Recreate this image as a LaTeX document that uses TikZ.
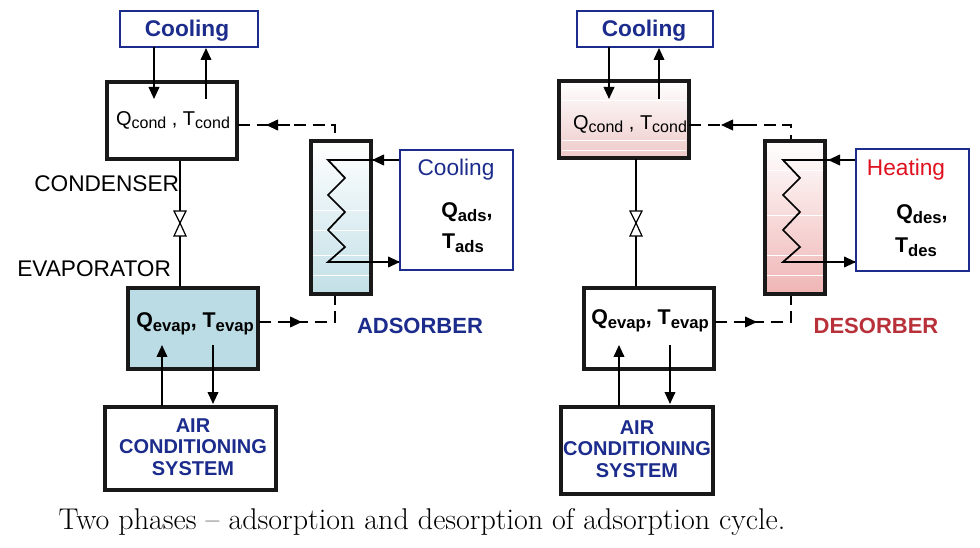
\documentclass[tikz,border=0pt]{standalone}
\usepackage{fontspec}
\setmainfont{Liberation Sans}
\newfontfamily\capfont{Latin Modern Roman}
\usetikzlibrary{arrows.meta}
\definecolor{dblue}{HTML}{1C2C8C}
\definecolor{evapblue}{HTML}{BBDCE4}
\definecolor{pinkc}{HTML}{EEC9C9}
\definecolor{dred}{HTML}{B8313A}
\definecolor{hred}{HTML}{E0101F}
\newcommand{\sbx}[1]{\raisebox{-0.35ex}{\fontsize{12}{13}\selectfont #1}}
\newcommand{\sbb}[1]{\raisebox{-0.35ex}{\fontsize{12.5}{13}\selectfont #1}}
\begin{document}
\begin{tikzpicture}[x=0.75pt,y=-0.75pt,
  txt/.style={font=\fontsize{15}{17}\selectfont, inner sep=0},
  btxt/.style={font=\fontsize{16}{18}\selectfont\bfseries, inner sep=0},
  lbl/.style={font=\fontsize{17}{19}\selectfont, inner sep=0},
  thickbox/.style={draw=black!90, line width=3pt},
  bluebox/.style={draw=dblue, line width=1pt, fill=white},
  arr/.style={line width=1.3pt, -{Triangle[length=9pt,width=8pt]}},
  dashl/.style={line width=1.3pt, dash pattern=on 9pt off 5pt},
  tri/.style={line width=0.9pt, fill=white},
  zz/.style={line width=1.3pt},
  tip/.style={-{Triangle[length=9pt,width=8pt]}, line width=1.3pt},
  airt/.style={text=dblue, align=center, font=\fontsize{15}{16}\selectfont\bfseries, inner sep=0},
  biglbl/.style={font=\fontsize{16.5}{18}\selectfont\bfseries, inner sep=0}
]
\useasboundingbox (0,0) rectangle (980,548);

% ---------------- LEFT ----------------
\draw[bluebox] (120,11) rectangle (258,47);
\node[btxt, text=dblue, font=\fontsize{17}{19}\selectfont\bfseries] (lcoolt) at (187,31) {Cooling};
\draw[thickbox, fill=white] (107,82) rectangle (237,159);
\node[txt] (lcond) at (173,120) {Q\sbx{cond} , T\sbx{cond}};
\draw[arr] (154,47) -- (154,99);
\draw[arr] (206,99) -- (206,48);
\node[lbl, anchor=west] (lcondl) at (34,184) {CONDENSER};
\node[lbl, anchor=west] (levapl) at (17,269) {EVAPORATOR};
\draw[zz] (180,161) -- (180,286);
\draw[tri] (174,211) -- (186,211) -- (180,223) -- cycle;
\draw[tri] (174,236) -- (186,236) -- (180,223) -- cycle;
\draw[thickbox, fill=evapblue] (128,288) rectangle (258,369);
\node[btxt] (levap) at (195,324) {Q\sbb{evap}, T\sbb{evap}};
% adsorber
\shade[top color=white, bottom color=evapblue!90] (311,141) rectangle (371,294);
\draw[thickbox] (311,141) rectangle (371,294);
\foreach \yy in {210,230,255,275} \draw[white, line width=0.6pt] (313,\yy) -- (369,\yy);
\draw[zz] (400,160) -- (328,160) -- (345,178) -- (328,195) -- (345,212) -- (328,230) -- (345,247) -- (328,262) -- (400,262);
\draw[tip] (400,160) -- (372,160);
\draw[tip] (380,262) -- (400,262);
% dashed links
\draw[dashl] (238,125) -- (335,125) -- (335,139);
\draw[tip] (290,125) -- (266,125);
\draw[dashl] (259,322) -- (335,322) -- (335,296);
\draw[tip] (280,322) -- (302,322);
% right cooling box
\draw[bluebox] (400,150) rectangle (513,270);
\node[lbl, text=dblue] (lc2t) at (456,170) {Cooling};
\node[btxt] (lqads) at (467,212) {Q\sbb{ads},};
\node[btxt] (ltads) at (463,243) {T\sbb{ads}};
\node[biglbl, text=dblue] (ladsl) at (420,326) {ADSORBER};
% air
\draw[thickbox, fill=white] (105,407) rectangle (276,490);
\node[airt] (lair) at (193,447) {AIR\\CONDITIONING\\SYSTEM};
\draw[arr] (162,406) -- (162,345);
\draw[arr] (213,345) -- (213,404);

% ---------------- RIGHT ----------------
\draw[bluebox] (577,11) rectangle (713,47);
\node[text=dblue, font=\fontsize{17}{19}\selectfont\bfseries, inner sep=0] (rcoolt) at (644,31) {Cooling};
\shade[top color=white, bottom color=pinkc] (559,81) rectangle (689,158);
\draw[thickbox] (559,81) rectangle (689,158);
\foreach \yy in {100,140,150} \draw[white, line width=0.6pt] (562,\yy) -- (686,\yy);
\node[txt] (rcond) at (630,124) {Q\sbx{cond} , T\sbx{cond}};
\draw[arr] (609,47) -- (609,99);
\draw[arr] (659,99) -- (659,48);
\draw[zz] (636,159) -- (636,286);
\draw[tri] (630,211) -- (642,211) -- (636,223) -- cycle;
\draw[tri] (630,236) -- (642,236) -- (636,223) -- cycle;
\draw[thickbox, fill=white] (584,288) rectangle (714,369);
\node[btxt] (revap) at (650,321) {Q\sbb{evap}, T\sbb{evap}};
\shade[top color=white, bottom color=pinkc!90!red] (765,141) rectangle (825,294);
\draw[thickbox] (765,141) rectangle (825,294);
\foreach \yy in {170,215,255,275} \draw[white, line width=0.6pt] (767,\yy) -- (823,\yy);
\draw[zz] (856,160) -- (783,160) -- (800,178) -- (783,195) -- (800,212) -- (783,230) -- (800,247) -- (783,262) -- (856,262);
\draw[tip] (856,160) -- (828,160);
\draw[tip] (835,262) -- (856,262);
\draw[dashl] (689,125) -- (791,125) -- (791,139);
\draw[tip] (745,125) -- (721,125);
\draw[dashl] (715,322) -- (791,322) -- (791,296);
\draw[tip] (735,322) -- (757,322);
\draw[bluebox] (856,149) rectangle (969,271);
\node[lbl, text=hred] (rheat) at (906,170) {Heating};
\node[btxt] (rqdes) at (922,214) {Q\sbb{des},};
\node[btxt] (rtdes) at (916,247) {T\sbb{des}};
\node[biglbl, text=dred] (rdesl) at (876,326) {DESORBER};
\draw[thickbox, fill=white] (561,407) rectangle (713,494);
\node[airt] (rair) at (637,449) {AIR\\CONDITIONING\\SYSTEM};
\draw[arr] (619,406) -- (619,345);
\draw[arr] (670,345) -- (670,404);

\node[font=\capfont\fontsize{22.5}{24}\selectfont, inner sep=0] (cap) at (422,522) {Two phases \textendash{} adsorption and desorption of adsorption cycle.};
\end{tikzpicture}
\end{document}
